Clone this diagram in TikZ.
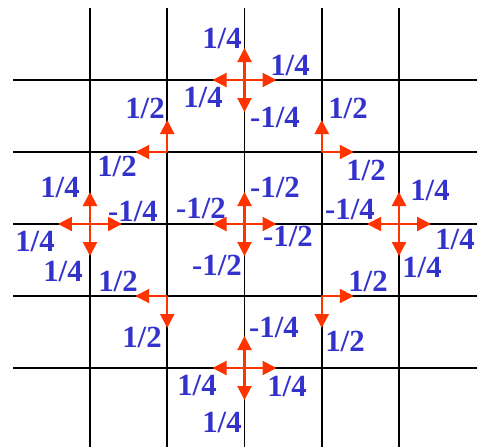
\documentclass[tikz,border=0pt]{standalone}
\usepackage{fontspec}
\setmainfont{Liberation Serif}
\usetikzlibrary{arrows.meta}
\definecolor{flowred}{RGB}{255,51,0}
\definecolor{fluxblue}{RGB}{51,51,204}

\begin{document}
\begin{tikzpicture}[x=0.02cm, y=-0.02cm,
    gridline/.style={line width=1.1pt},
    flux/.style={draw=flowred, line width=1.2pt, -{Triangle[length=0.28cm, width=0.28cm]}},
    val/.style={text=fluxblue, font=\fontsize{17.5}{18}\selectfont\bfseries, inner sep=0pt}]
  \useasboundingbox (0,0) rectangle (490,447);

  % mesh
  \foreach \i in {0,...,4} {
    \draw[gridline] ({90+77.25*\i},8) -- ({90+77.25*\i},447);
    \draw[gridline] (13,{80+72*\i}) -- (477,{80+72*\i});
  }

  % grid points and arrow ends
  \foreach \i in {0,...,4}
    \foreach \j in {0,...,4} {
      \coordinate (g\i\j) at ({90+77.25*\i},{80+72*\j});
      \path (g\i\j) +(0,-32) coordinate (g\i\j-n) +(32,0) coordinate (g\i\j-e)
                    +(0,32) coordinate (g\i\j-s) +(-32,0) coordinate (g\i\j-w);
    }

  % arrows
  \foreach \p/\dirs in {20/{n,e,s,w}, 11/{n,w}, 31/{n,e}, 02/{n,e,s,w},
                        22/{n,e,s,w}, 42/{n,e,s,w}, 13/{s,w}, 33/{e,s}, 24/{n,e,s,w}}
    \foreach \d in \dirs
      \draw[flux] (g\p) -- (g\p-\d);

  % top
  \node[val] (top-n) at (222,38) {1/4};
  \node[val] (top-e) at (290,65) {1/4};
  \node[val] (top-w) at (203,97) {1/4};
  \node[val] (top-s) at (275,117) {-1/4};
  % upper diagonal
  \node[val] (ul-n) at (145,108) {1/2};
  \node[val] (ul-w) at (117,166) {1/2};
  \node[val] (ur-n) at (348,108) {1/2};
  \node[val] (ur-e) at (366,170) {1/2};
  % left
  \node[val] (lft-n) at (60,187) {1/4};
  \node[val] (lft-e) at (133,211) {-1/4};
  \node[val] (lft-w) at (35,241) {1/4};
  \node[val] (lft-s) at (63,271) {1/4};
  % centre
  \node[val] (mid-n) at (275,187) {-1/2};
  \node[val] (mid-w) at (201,208) {-1/2};
  \node[val] (mid-e) at (288,236) {-1/2};
  \node[val] (mid-s) at (217,265) {-1/2};
  % right
  \node[val] (rgt-w) at (350,209) {-1/4};
  \node[val] (rgt-n) at (430,190) {1/4};
  \node[val] (rgt-e) at (455,239) {1/4};
  \node[val] (rgt-s) at (422,267) {1/4};
  % lower diagonal
  \node[val] (ll-w) at (118,281) {1/2};
  \node[val] (ll-s) at (142,337) {1/2};
  \node[val] (lr-e) at (368,281) {1/2};
  \node[val] (lr-s) at (345,341) {1/2};
  % bottom
  \node[val] (bot-n) at (274,327) {-1/4};
  \node[val] (bot-w) at (197,385) {1/4};
  \node[val] (bot-e) at (287,386) {1/4};
  \node[val] (bot-s) at (222,422) {1/4};
\end{tikzpicture}
\end{document}
